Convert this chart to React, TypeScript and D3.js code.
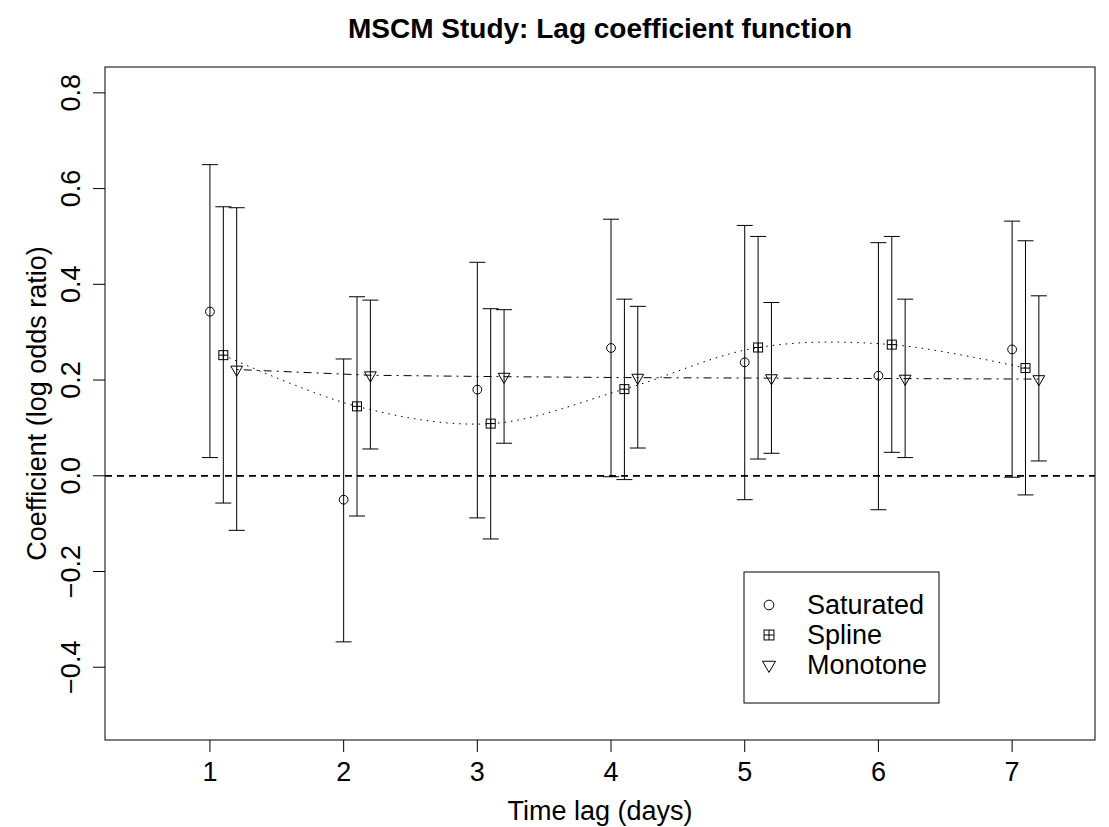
import React, { useEffect, useRef } from "react";
import * as d3 from "d3";

// lags and estimates
const lags = [1, 2, 3, 4, 5, 6, 7];

const saturatedEst = [0.343, -0.05, 0.18, 0.267, 0.237, 0.209, 0.264];
const saturatedLo = [0.038, -0.347, -0.088, -0.002, -0.05, -0.071, -0.003];
const saturatedHi = [0.65, 0.244, 0.446, 0.536, 0.523, 0.487, 0.532];

const splineEst = [0.252, 0.145, 0.109, 0.181, 0.268, 0.274, 0.225];
const splineLo = [-0.057, -0.084, -0.132, -0.008, 0.035, 0.049, -0.04];
const splineHi = [0.562, 0.374, 0.349, 0.369, 0.5, 0.5, 0.491];

const monoEst = [0.222, 0.21, 0.207, 0.205, 0.204, 0.203, 0.202];
const monoLo = [-0.114, 0.056, 0.068, 0.058, 0.047, 0.038, 0.031];
const monoHi = [0.56, 0.367, 0.347, 0.354, 0.362, 0.369, 0.376];

const xTicks = [1, 2, 3, 4, 5, 6, 7];
const yTicks = [-0.4, -0.2, 0.0, 0.2, 0.4, 0.6, 0.8];
const legendLabels = ["Saturated", "Spline", "Monotone"];

const App = () => {
  const svgRef = useRef(null);

  useEffect(() => {
    const width = 1109;
    const height = 827;
    const plot = { left: 105, right: 1095, top: 67, bottom: 740 };
    const font = "'Liberation Sans', Arial, Helvetica, sans-serif";
    const fs = "27px";

    d3.select(svgRef.current).selectAll("*").remove();
    const svg = d3
      .select(svgRef.current)
      .attr("width", width)
      .attr("height", height)
      .style("position", "absolute")
      .style("left", "0px")
      .style("top", "0px")
      .style("background", "#fff");

    const x = d3.scaleLinear().domain([0.215, 7.62]).range([plot.left, plot.right]);
    const y = d3.scaleLinear().domain([-0.552, 0.854]).range([plot.bottom, plot.top]);

    // Title
    svg.append("text")
      .attr("x", (plot.left + plot.right) / 2)
      .attr("y", 38)
      .attr("text-anchor", "middle")
      .attr("font-family", font)
      .attr("font-size", "28px")
      .attr("font-weight", "bold")
      .text("MSCM Study: Lag coefficient function");

    // zero line
    svg.append("line")
      .attr("x1", plot.left).attr("x2", plot.right)
      .attr("y1", y(0)).attr("y2", y(0))
      .attr("stroke", "#000")
      .attr("stroke-width", 1.7)
      .attr("stroke-dasharray", "7,5");

    const series = [
      { off: 0, est: saturatedEst, lo: saturatedLo, hi: saturatedHi },
      { off: 0.1, est: splineEst, lo: splineLo, hi: splineHi },
      { off: 0.2, est: monoEst, lo: monoLo, hi: monoHi },
    ];

    // smooth spline curve (dotted) and monotone line (dash-dot)
    const line = d3.line().x((d) => x(d[0])).y((d) => y(d[1]));
    svg.append("path")
      .attr("d", line.curve(d3.curveCatmullRom.alpha(0.5))(lags.map((l, i) => [l + 0.1, splineEst[i]])))
      .attr("fill", "none")
      .attr("stroke", "#000")
      .attr("stroke-width", 1)
      .attr("stroke-dasharray", "1.5,5");
    svg.append("path")
      .attr("d", line.curve(d3.curveLinear)(lags.map((l, i) => [l + 0.2, monoEst[i]])))
      .attr("fill", "none")
      .attr("stroke", "#000")
      .attr("stroke-width", 1)
      .attr("stroke-dasharray", "2,5,8,5");

    // error bars
    const cap = 8;
    series.forEach((s) => {
      const g = svg.append("g").attr("stroke", "#000").attr("stroke-width", 1);
      lags.forEach((l, i) => {
        const cx = x(l + s.off);
        g.append("line").attr("x1", cx).attr("x2", cx).attr("y1", y(s.lo[i])).attr("y2", y(s.hi[i]));
        g.append("line").attr("x1", cx - cap).attr("x2", cx + cap).attr("y1", y(s.lo[i])).attr("y2", y(s.lo[i]));
        g.append("line").attr("x1", cx - cap).attr("x2", cx + cap).attr("y1", y(s.hi[i])).attr("y2", y(s.hi[i]));
      });
    });

    // open symbols, as R's pch 1, 12 and 6
    const drawSymbol = (g, kind, cx, cy, k = 1) => {
      if (kind === 0) {
        g.append("circle").attr("cx", cx).attr("cy", cy).attr("r", 4.4 * k)
          .attr("fill", "none").attr("stroke", "#000");
      } else if (kind === 1) {
        const h = 4.5 * k;
        g.append("rect").attr("x", cx - h).attr("y", cy - h).attr("width", 2 * h).attr("height", 2 * h)
          .attr("fill", "none").attr("stroke", "#000");
        g.append("line").attr("x1", cx - h).attr("x2", cx + h).attr("y1", cy).attr("y2", cy).attr("stroke", "#000");
        g.append("line").attr("x1", cx).attr("x2", cx).attr("y1", cy - h).attr("y2", cy + h).attr("stroke", "#000");
      } else {
        const r = 6.8 * k;
        const hw = 5.9 * k;
        g.append("path")
          .attr("d", `M${cx - hw},${cy - r / 2}L${cx + hw},${cy - r / 2}L${cx},${cy + r}Z`)
          .attr("fill", "none").attr("stroke", "#000");
      }
    };
    series.forEach((s, k) => {
      const g = svg.append("g");
      lags.forEach((l, i) => drawSymbol(g, k, x(l + s.off), y(s.est[i])));
    });

    // box
    svg.append("rect")
      .attr("x", plot.left).attr("y", plot.top)
      .attr("width", plot.right - plot.left).attr("height", plot.bottom - plot.top)
      .attr("fill", "none").attr("stroke", "#000").attr("stroke-width", 1);

    // x axis
    const xAxis = svg.append("g");
    xTicks.forEach((t) => {
      xAxis.append("line").attr("x1", x(t)).attr("x2", x(t))
        .attr("y1", plot.bottom).attr("y2", plot.bottom + 12).attr("stroke", "#000");
      xAxis.append("text").attr("x", x(t)).attr("y", 781)
        .attr("text-anchor", "middle").attr("font-family", font).attr("font-size", fs)
        .text(String(t));
    });

    // y axis
    const yAxis = svg.append("g");
    yTicks.forEach((t) => {
      yAxis.append("line").attr("x1", plot.left - 12).attr("x2", plot.left)
        .attr("y1", y(t)).attr("y2", y(t)).attr("stroke", "#000");
      yAxis.append("text")
        .attr("transform", `translate(80,${y(t)}) rotate(-90)`)
        .attr("text-anchor", "middle").attr("font-family", font).attr("font-size", fs)
        .text(d3.format(".1f")(t).replace("-", "\u2212"));
    });

    // axis titles
    svg.append("text")
      .attr("x", (plot.left + plot.right) / 2)
      .attr("y", 820)
      .attr("text-anchor", "middle").attr("font-family", font).attr("font-size", fs)
      .text("Time lag (days)");
    svg.append("text")
      .attr("transform", `translate(46,${(plot.top + plot.bottom) / 2}) rotate(-90)`)
      .attr("text-anchor", "middle").attr("font-family", font).attr("font-size", fs)
      .text("Coefficient (log odds ratio)");

    // legend
    const leg = svg.append("g");
    leg.append("rect").attr("x", 744).attr("y", 572).attr("width", 195).attr("height", 131)
      .attr("fill", "#fff").attr("stroke", "#000");
    legendLabels.forEach((lab, i) => {
      const cy = 605 + i * 30;
      drawSymbol(leg, i, 769, cy, 1.1);
      leg.append("text").attr("x", 807).attr("y", cy + 9)
        .attr("font-family", font).attr("font-size", fs).text(lab);
    });
  }, []);

  return <svg ref={svgRef}></svg>;
};

export default App;
